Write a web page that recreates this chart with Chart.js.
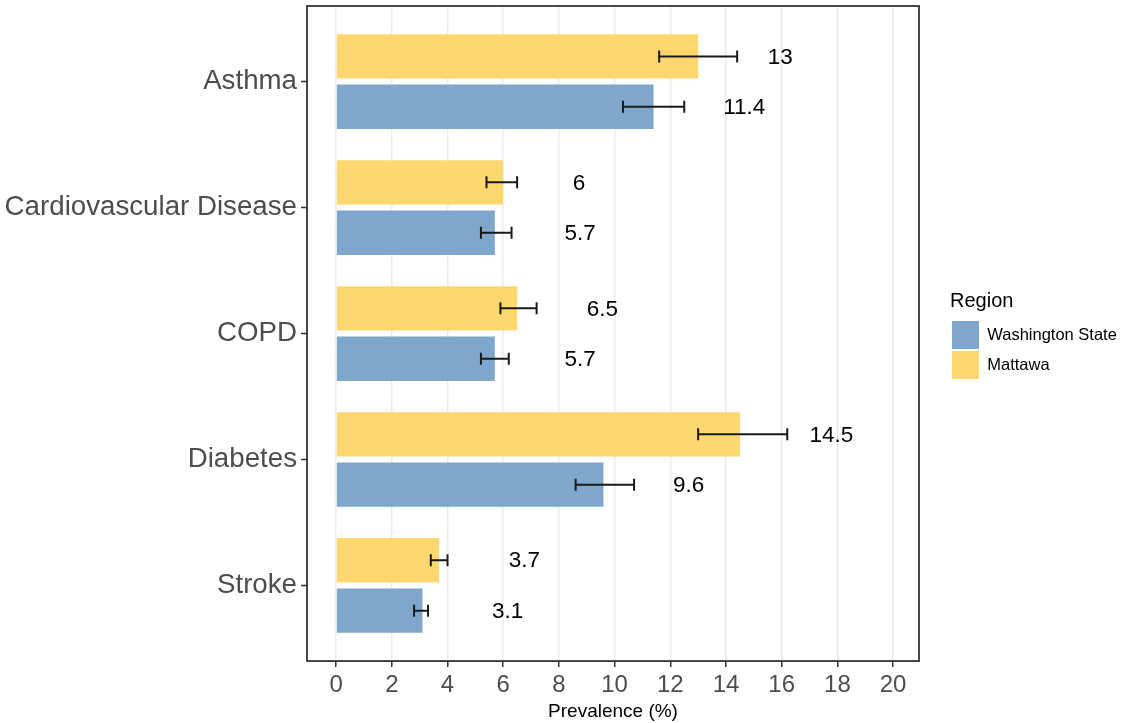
<!DOCTYPE html>
<html>
<head>
<meta charset="utf-8">
<script src="https://cdn.jsdelivr.net/npm/chart.js@4/dist/chart.umd.min.js"></script>
<style>
  html, body { margin: 0; padding: 0; background: #fff; }
  #wrap { width: 1124px; height: 723px; position: relative; }
</style>
</head>
<body>
<div id="wrap"><canvas id="chart"></canvas></div>
<script>
// --- data ---
const categories = ["Asthma", "Cardiovascular Disease", "COPD", "Diabetes", "Stroke"];
const regionNames = ["Mattawa", "Washington State"];

const mattawaValues = [13, 6, 6.5, 14.5, 3.7];
const mattawaLower  = [11.6, 5.4, 5.9, 13.0, 3.4];
const mattawaUpper  = [14.4, 6.5, 7.2, 16.2, 4.0];

const waValues = [11.4, 5.7, 5.7, 9.6, 3.1];
const waLower  = [10.3, 5.2, 5.2, 8.6, 2.8];
const waUpper  = [12.5, 6.3, 6.2, 10.7, 3.3];

const xTicks = [0, 2, 4, 6, 8, 10, 12, 14, 16, 18, 20];

const FONT = "'Liberation Sans', Arial, sans-serif";
const YELLOW = "#fed76e";
const BLUE = "#7fa7cc";
const LEGEND_W = 205;
const LEGEND_SHIFT_X = 31;
const LEGEND_SHIFT_Y = -27;

// points on the (linear, reversed) category index axis
const toPoints = vals => vals.map((v, i) => ({ x: v, y: i + 1 }));

const errorBars = [
  { lower: mattawaLower, upper: mattawaUpper, values: mattawaValues },
  { lower: waLower, upper: waUpper, values: waValues }
];

// legend column is wider than its content, items sit near the right edge
const legendPlacement = {
  id: 'legendPlacement',
  afterInit(chart) {
    const lg = chart.legend;
    const fit = lg.fit;
    lg.fit = function () {
      fit.call(this);
      this.width = LEGEND_W;
    };
  },
  afterLayout(chart) {
    const lg = chart.legend;
    lg.left += LEGEND_SHIFT_X;
    lg.top += LEGEND_SHIFT_Y;
    lg.bottom += LEGEND_SHIFT_Y;
  }
};

// panel border, error bars and value labels
const extras = {
  id: 'extras',
  afterDatasetsDraw(chart) {
    const { ctx, chartArea: a, scales: { x } } = chart;
    ctx.save();

    errorBars.forEach((eb, d) => {
      const meta = chart.getDatasetMeta(d);
      meta.data.forEach((bar, i) => {
        const x0 = x.getPixelForValue(eb.lower[i]);
        const x1 = x.getPixelForValue(eb.upper[i]);
        const y = bar.y;
        ctx.strokeStyle = '#1a1a1a';
        ctx.lineWidth = 2;
        ctx.beginPath();
        ctx.moveTo(x0, y); ctx.lineTo(x1, y);
        ctx.moveTo(x0, y - 6); ctx.lineTo(x0, y + 6);
        ctx.moveTo(x1, y - 6); ctx.lineTo(x1, y + 6);
        ctx.stroke();

        ctx.fillStyle = '#000';
        ctx.font = '22.5px ' + FONT;
        ctx.textAlign = 'left';
        ctx.textBaseline = 'middle';
        ctx.fillText(String(eb.values[i]), x.getPixelForValue(eb.values[i] + 2.5), y + 1);
      });
    });

    ctx.strokeStyle = '#333';
    ctx.lineWidth = 1.8;
    ctx.strokeRect(a.left, a.top, a.right - a.left, a.bottom - a.top);
    ctx.restore();
  }
};

new Chart(document.getElementById('chart'), {
  type: 'bar',
  data: {
    datasets: [
      {
        label: regionNames[0],
        data: toPoints(mattawaValues),
        backgroundColor: YELLOW,
        borderWidth: 0
      },
      {
        label: regionNames[1],
        data: toPoints(waValues),
        backgroundColor: BLUE,
        borderWidth: 0
      }
    ]
  },
  options: {
    indexAxis: 'y',
    responsive: true,
    maintainAspectRatio: false,
    animation: false,
    categoryPercentage: 0.8,
    barPercentage: 0.88,
    layout: { padding: { top: 6, bottom: 3, left: 0, right: 0 } },
    plugins: {
      tooltip: { enabled: false },
      legend: {
        position: 'right',
        align: 'center',
        reverse: true,
        title: {
          display: true,
          text: 'Region',
          color: '#000',
          position: 'start',
          font: { family: FONT, size: 20 },
          padding: { top: 0, bottom: 4 }
        },
        labels: {
          boxWidth: 27,
          boxHeight: 28,
          padding: 2,
          color: '#000',
          font: { family: FONT, size: 16.5 }
        }
      }
    },
    scales: {
      x: {
        type: 'linear',
        min: -1.045,
        max: 20.93,
        afterBuildTicks: axis => { axis.ticks = xTicks.map(v => ({ value: v })); },
        border: { display: false },
        grid: { color: '#ebebeb', lineWidth: 1.5, tickColor: '#333', tickLength: 6, tickWidth: 1.5 },
        ticks: { color: '#4d4d4d', padding: 4, font: { family: FONT, size: 24 }, maxRotation: 0 },
        title: {
          display: true,
          text: 'Prevalence (%)',
          color: '#000',
          font: { family: FONT, size: 19, lineHeight: 0.85 },
          padding: { top: 0, bottom: 0 }
        }
      },
      y: {
        type: 'linear',
        reverse: true,
        offset: false,
        min: 0.4,
        max: 5.6,
        afterBuildTicks: axis => { axis.ticks = categories.map((c, i) => ({ value: i + 1 })); },
        afterFit: axis => {
          axis.width = 307;
          axis.paddingTop = 0;
          axis.paddingBottom = 0;
        },
        border: { display: false },
        grid: { offset: false, drawOnChartArea: false, tickColor: '#333', tickLength: 6, tickWidth: 1.5 },
        ticks: {
          color: '#4d4d4d',
          padding: 4,
          font: { family: FONT, size: 27.7 },
          callback: v => categories[v - 1] || ''
        }
      }
    }
  },
  plugins: [legendPlacement, extras]
});
</script>
</body>
</html>
